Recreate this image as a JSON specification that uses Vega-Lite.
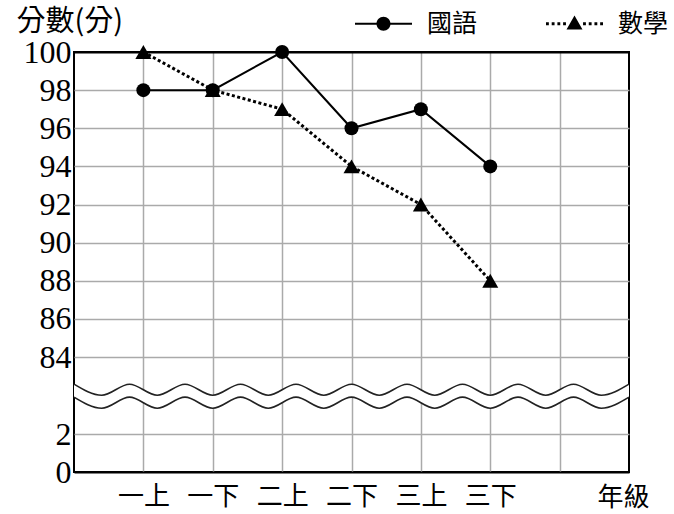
{
  "$schema": "https://vega.github.io/schema/vega-lite/v6.json",
  "width": 555,
  "height": 420,
  "autosize": "none",
  "padding": {"left": 74, "top": 52, "right": 45, "bottom": 42},
  "background": "white",
  "config": {
    "view": {"stroke": "black", "strokeWidth": 2},
    "font": "Noto Sans CJK TC",
    "legend": {
      "title": null,
      "orient": "none",
      "legendX": 281,
      "legendY": -57,
      "direction": "horizontal",
      "symbolSize": 3249,
      "symbolOpacity": 1,
      "symbolStrokeWidth": 0,
      "symbolFillColor": "black",
      "labelFont": "Noto Sans CJK TC",
      "labelFontSize": 25,
      "labelColor": "black",
      "labelOffset": 15,
      "columnPadding": 68
    }
  },
  "resolve": {"scale": {"x": "independent", "y": "independent"}},
  "layer": [
    {
      "data": {
        "values": [
          {"grade": "一上", "subject": "國語", "score": 98},
          {"grade": "一下", "subject": "國語", "score": 98},
          {"grade": "二上", "subject": "國語", "score": 100},
          {"grade": "二下", "subject": "國語", "score": 96},
          {"grade": "三上", "subject": "國語", "score": 97},
          {"grade": "三下", "subject": "國語", "score": 94},
          {"grade": "一上", "subject": "數學", "score": 100},
          {"grade": "一下", "subject": "數學", "score": 98},
          {"grade": "二上", "subject": "數學", "score": 97},
          {"grade": "二下", "subject": "數學", "score": 94},
          {"grade": "三上", "subject": "數學", "score": 92},
          {"grade": "三下", "subject": "數學", "score": 88}
        ]
      },
      "encoding": {
        "x": {
          "field": "grade",
          "type": "nominal",
          "scale": {"type": "point", "domain": ["一上", "一下", "二上", "二下", "三上", "三下", "_"], "padding": 1},
          "axis": {
            "title": "年級",
            "titleFont": "Noto Sans CJK TC",
            "titleFontSize": 26,
            "titleFontWeight": "normal",
            "titleColor": "black",
            "titleX": 549,
            "titleY": 25,
            "titleAlign": "center",
            "titleBaseline": "middle",
            "labelExpr": "datum.value === '_' ? '' : datum.value",
            "labelFont": "Noto Sans CJK TC",
            "labelFontSize": 26,
            "labelColor": "black",
            "labelPadding": 11,
            "labelAngle": 0,
            "ticks": false,
            "domain": false,
            "grid": true,
            "gridColor": "#aaaaaa",
            "gridWidth": 1.5
          }
        },
        "y": {
          "field": "score",
          "type": "quantitative",
          "scale": {"domain": [0, 2, 84, 100], "range": [420, 382, 305, 0], "nice": false, "zero": false},
          "axis": {
            "title": "分數(分)",
            "titleFont": "Noto Sans CJK TC",
            "titleFontSize": 29,
            "titleFontWeight": "normal",
            "titleColor": "black",
            "titleAngle": 0,
            "titleX": -58,
            "titleY": -31,
            "titleAlign": "left",
            "titleBaseline": "middle",
            "values": [0, 2, 84, 86, 88, 90, 92, 94, 96, 98, 100],
            "labelFont": "Liberation Serif",
            "labelFontSize": 32,
            "labelColor": "black",
            "labelPadding": 3,
            "ticks": false,
            "domain": false,
            "grid": true,
            "gridColor": {"condition": {"test": "datum.value === 0 || datum.value === 100", "value": "black"}, "value": "#aaaaaa"},
            "gridWidth": {"condition": {"test": "datum.value === 0 || datum.value === 100", "value": 2}, "value": 1.5}
          }
        }
      },
      "layer": [
        {
          "transform": [{"filter": "datum.subject === '數學'"}],
          "mark": {"type": "line", "color": "black", "strokeWidth": 3, "strokeDash": [3, 2.5]}
        },
        {
          "transform": [{"filter": "datum.subject === '國語'"}],
          "mark": {"type": "line", "color": "black", "strokeWidth": 2}
        },
        {
          "transform": [{"filter": "datum.subject === '數學'"}],
          "mark": {"type": "point", "shape": "triangle-up", "filled": true, "color": "black", "size": 256, "opacity": 1}
        },
        {
          "transform": [{"filter": "datum.subject === '國語'"}],
          "mark": {"type": "point", "shape": "circle", "filled": true, "color": "black", "size": 196, "opacity": 1}
        },
        {
          "mark": {"type": "point", "filled": true, "color": "black", "opacity": 0},
          "encoding": {
            "shape": {
              "field": "subject",
              "type": "nominal",
              "scale": {
                "domain": ["國語", "數學"],
                "range": [
                  "M-1,-0.035H1V0.035H-1Z M-0.245,0A0.245,0.245,0,1,1,0.245,0A0.245,0.245,0,1,1,-0.245,0Z",
                  "M-1,-0.05h0.1v0.1h-0.1Z M-0.8,-0.05h0.1v0.1h-0.1Z M-0.6,-0.05h0.1v0.1h-0.1Z M-0.4,-0.05h0.1v0.1h-0.1Z M0.3,-0.05h0.1v0.1h-0.1Z M0.5,-0.05h0.1v0.1h-0.1Z M0.7,-0.05h0.1v0.1h-0.1Z M0.9,-0.05h0.1v0.1h-0.1Z M0,-0.29L0.28,0.2L-0.28,0.2Z"
                ]
              }
            }
          }
        }
      ]
    },
    {
      "data": {
        "values": [
          {"wx": 0.0, "w1": 4.6, "w2": 3.92},
          {"wx": 0.4, "w1": 4.02, "w2": 3.34},
          {"wx": 0.8, "w1": 4.6, "w2": 3.92},
          {"wx": 1.2, "w1": 4.02, "w2": 3.34},
          {"wx": 1.6, "w1": 4.6, "w2": 3.92},
          {"wx": 2.0, "w1": 4.02, "w2": 3.34},
          {"wx": 2.4, "w1": 4.6, "w2": 3.92},
          {"wx": 2.8, "w1": 4.02, "w2": 3.34},
          {"wx": 3.2, "w1": 4.6, "w2": 3.92},
          {"wx": 3.6, "w1": 4.02, "w2": 3.34},
          {"wx": 4.0, "w1": 4.6, "w2": 3.92},
          {"wx": 4.4, "w1": 4.02, "w2": 3.34},
          {"wx": 4.8, "w1": 4.6, "w2": 3.92},
          {"wx": 5.2, "w1": 4.02, "w2": 3.34},
          {"wx": 5.6, "w1": 4.6, "w2": 3.92},
          {"wx": 6.0, "w1": 4.02, "w2": 3.34},
          {"wx": 6.4, "w1": 4.6, "w2": 3.92},
          {"wx": 6.8, "w1": 4.02, "w2": 3.34},
          {"wx": 7.2, "w1": 4.6, "w2": 3.92},
          {"wx": 7.6, "w1": 4.02, "w2": 3.34},
          {"wx": 8.0, "w1": 4.6, "w2": 3.92}
        ]
      },
      "encoding": {
        "x": {"field": "wx", "type": "quantitative", "scale": {"domain": [0, 8], "nice": false, "zero": false}, "axis": null}
      },
      "layer": [
        {
          "mark": {"type": "area", "interpolate": "monotone", "fill": "white", "opacity": 1},
          "encoding": {
            "y": {"field": "w1", "type": "quantitative", "scale": {"domain": [0, 22], "nice": false, "zero": false}, "axis": null},
            "y2": {"field": "w2"}
          }
        },
        {
          "mark": {"type": "line", "interpolate": "monotone", "stroke": "#222222", "strokeWidth": 1.6},
          "encoding": {
            "y": {"field": "w1", "type": "quantitative", "axis": null}
          }
        },
        {
          "mark": {"type": "line", "interpolate": "monotone", "stroke": "#222222", "strokeWidth": 1.6},
          "encoding": {
            "y": {"field": "w2", "type": "quantitative", "axis": null}
          }
        }
      ]
    }
  ]
}
